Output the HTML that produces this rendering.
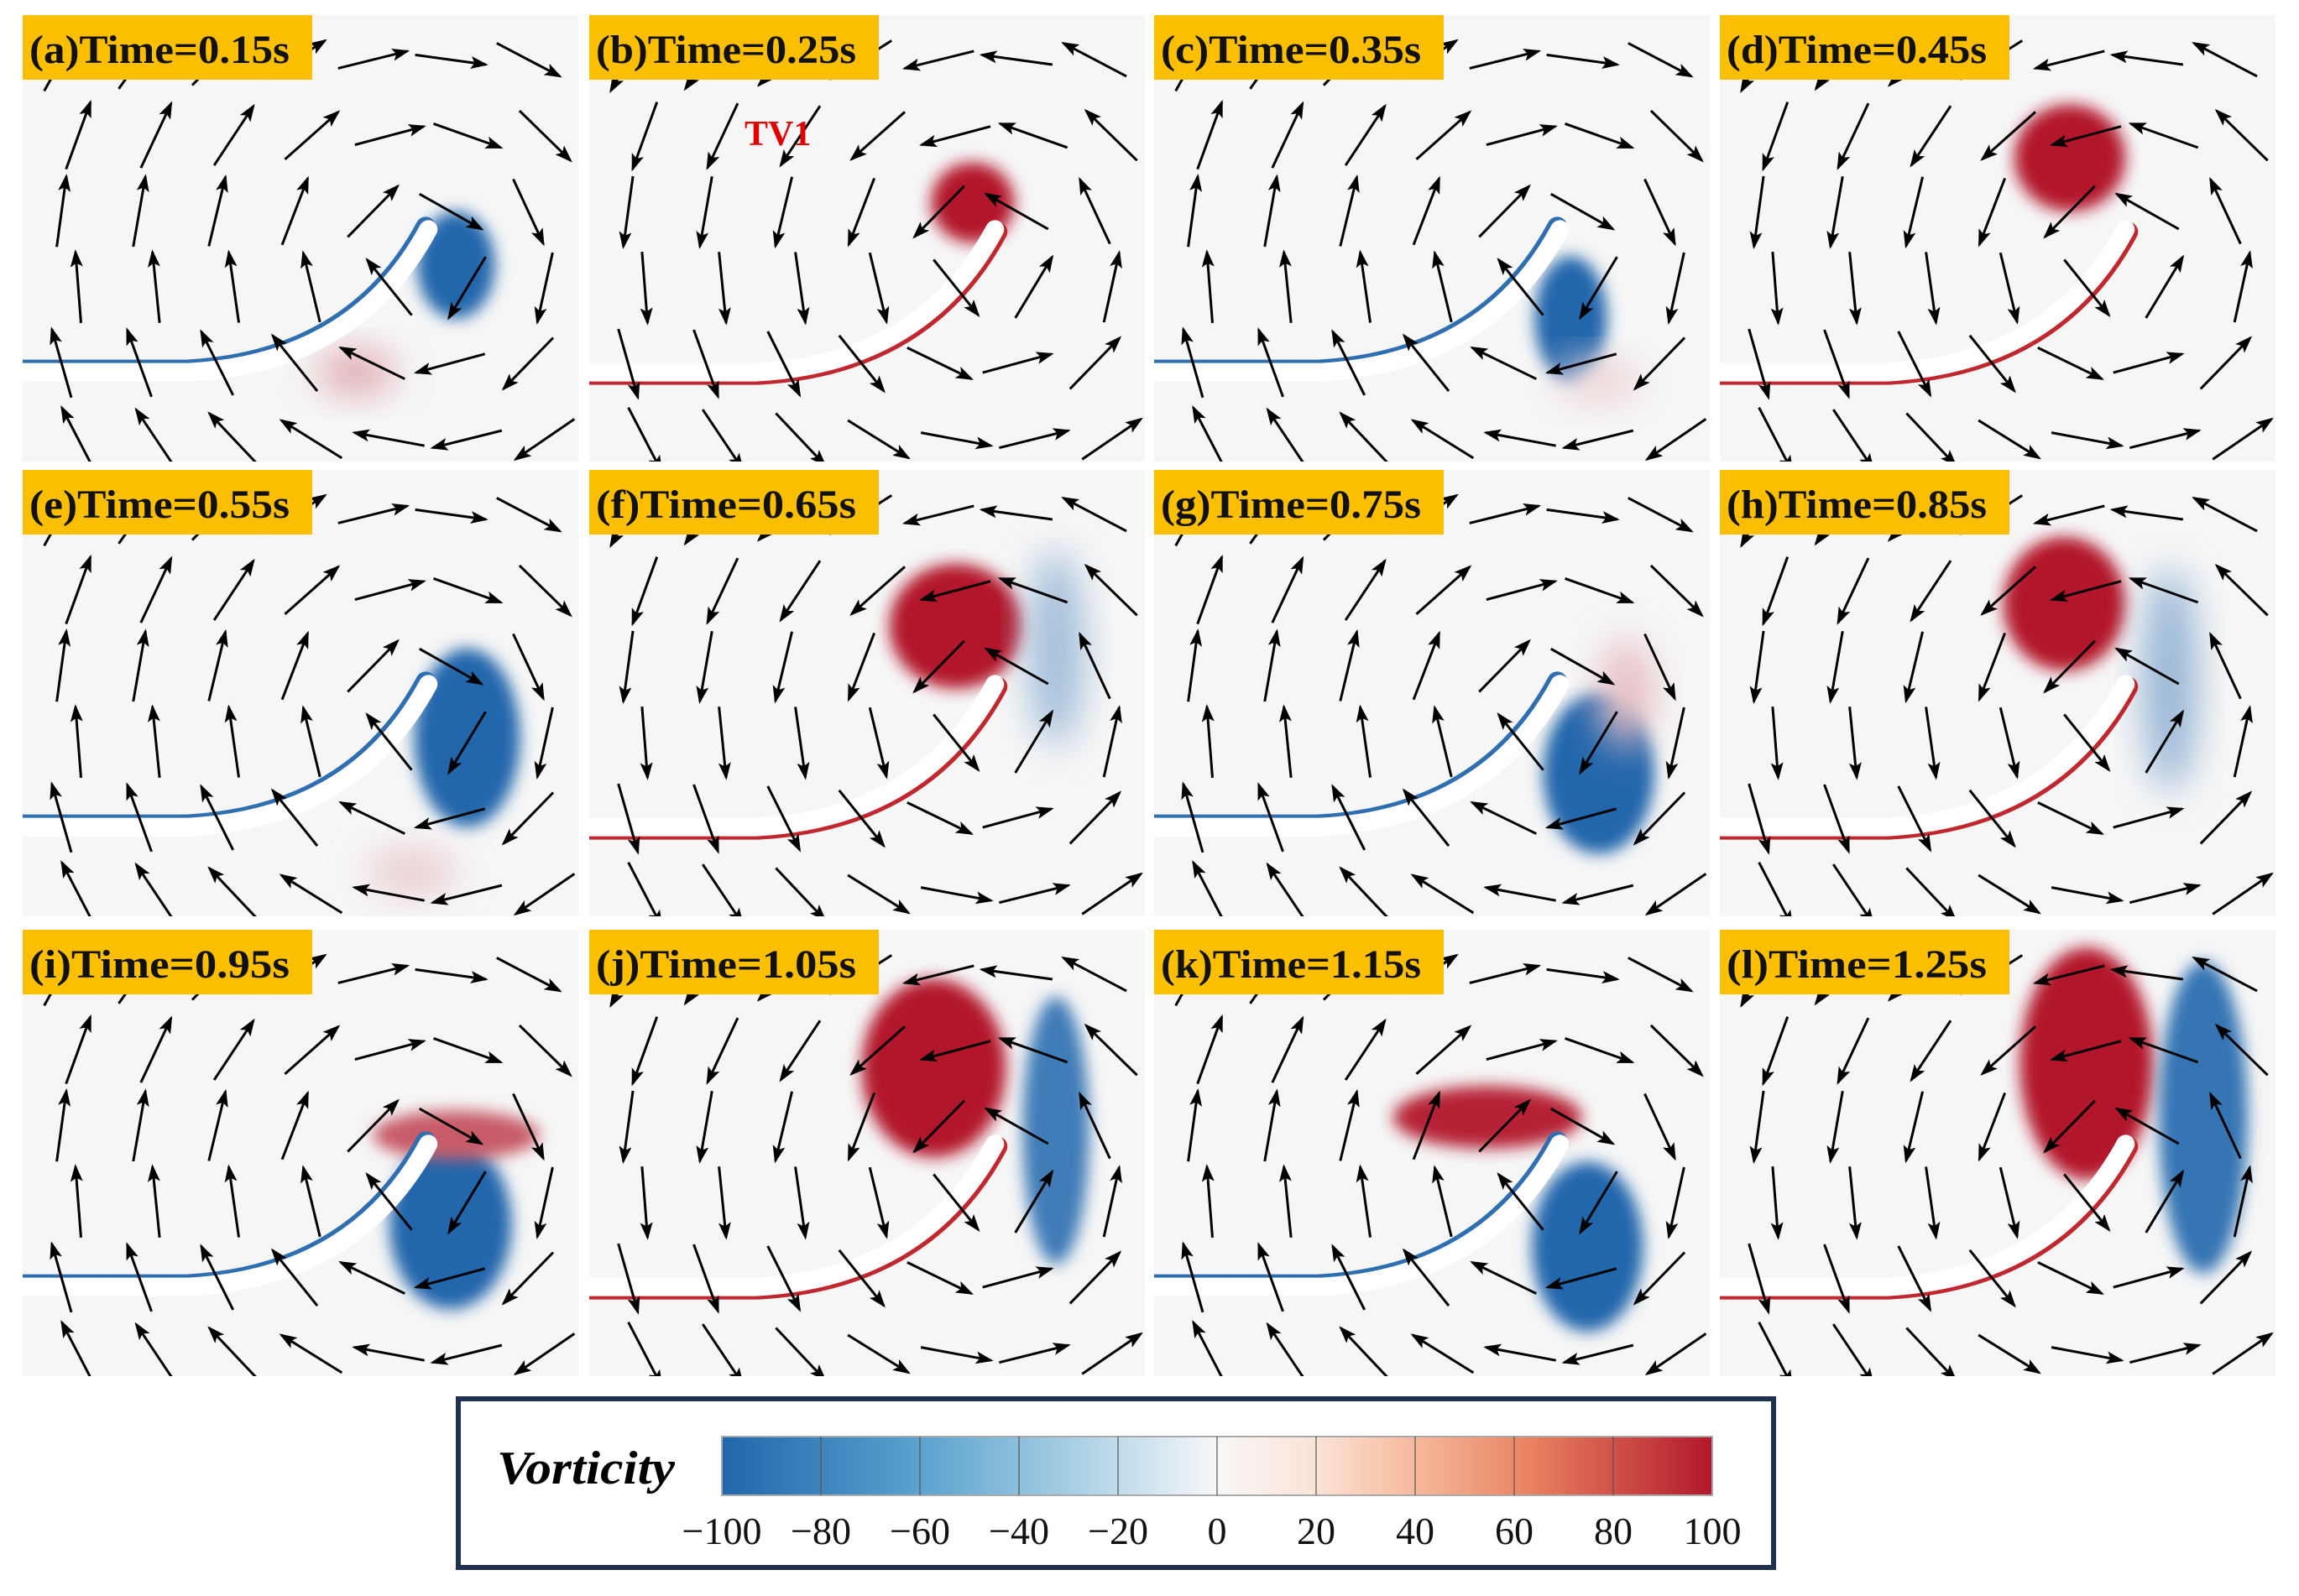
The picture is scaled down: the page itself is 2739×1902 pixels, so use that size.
<!DOCTYPE html>
<html><head><meta charset="utf-8"><style>
html,body{margin:0;padding:0;background:#fff;}
body{width:2739px;height:1902px;position:relative;overflow:hidden;font-family:"Liberation Serif",serif;}
svg{position:absolute;left:0;top:0;}
</style></head><body>
<svg id="fig" width="2739" height="1902" xmlns="http://www.w3.org/2000/svg">
<defs>
<filter id="blur" x="-50%" y="-50%" width="200%" height="200%"><feGaussianBlur stdDeviation="9"/></filter>
<filter id="blur2" x="-50%" y="-50%" width="200%" height="200%"><feGaussianBlur stdDeviation="22"/></filter>
<marker id="ah" markerWidth="7" markerHeight="5" refX="6" refY="2.5" orient="auto" markerUnits="strokeWidth"><path d="M0,0 L7,2.5 L0,5 L1.5,2.5 Z" fill="#000"/></marker>
<linearGradient id="cbg" x1="0" x2="1" y1="0" y2="0">
<stop offset="0" stop-color="#2166ac"/><stop offset="0.2" stop-color="#5aa2cf"/><stop offset="0.35" stop-color="#a6cee3"/><stop offset="0.45" stop-color="#dbe9f2"/><stop offset="0.5" stop-color="#f7f7f7"/><stop offset="0.6" stop-color="#fbe3d6"/><stop offset="0.7" stop-color="#f6b99c"/><stop offset="0.82" stop-color="#e8805f"/><stop offset="1" stop-color="#b2182b"/>
</linearGradient>
</defs>
</svg>
<script>
const labels=["(a)Time=0.15s","(b)Time=0.25s","(c)Time=0.35s","(d)Time=0.45s","(e)Time=0.55s","(f)Time=0.65s","(g)Time=0.75s","(h)Time=0.85s","(i)Time=0.95s","(j)Time=1.05s","(k)Time=1.15s","(l)Time=1.25s"];
const vortexSign=[1,-1,1,-1,1,-1,1,-1,1,-1,1,-1];
// blobs per panel: [cx, cy, rx, ry, vorticity]
const blobs=[
[[0.78,0.56,0.07,0.12,-100],[0.6,0.8,0.07,0.05,35]],
[[0.69,0.42,0.075,0.09,100]],
[[0.75,0.68,0.065,0.14,-100],[0.8,0.82,0.08,0.05,15]],
[[0.63,0.32,0.1,0.12,100]],
[[0.8,0.6,0.095,0.2,-100],[0.7,0.9,0.08,0.05,20]],
[[0.66,0.35,0.12,0.14,100],[0.84,0.4,0.05,0.22,-40]],
[[0.8,0.68,0.1,0.18,-100],[0.85,0.5,0.05,0.12,25]],
[[0.62,0.3,0.11,0.15,100],[0.81,0.47,0.05,0.25,-45]],
[[0.77,0.66,0.11,0.19,-100],[0.78,0.46,0.15,0.055,70]],
[[0.62,0.31,0.13,0.2,100],[0.84,0.45,0.06,0.3,-85]],
[[0.78,0.71,0.1,0.19,-100],[0.6,0.42,0.17,0.07,95]],
[[0.66,0.3,0.12,0.26,100],[0.87,0.42,0.08,0.35,-90]]
];
const cbTicks=[-100,-80,-60,-40,-20,0,20,40,60,80,100];
const colX=[27,702,1375,2049], rowY=[18,560,1108], PW=662, PH=532;
const svg=document.getElementById('fig');
const NS='http://www.w3.org/2000/svg';
function el(t,a,p){const e=document.createElementNS(NS,t);for(const k in a)e.setAttribute(k,a[k]);(p||svg).appendChild(e);return e;}
function col(v){const t=Math.min(1,Math.abs(v)/100);
 if(v<0){return `rgb(${Math.round(247-(247-33)*t)},${Math.round(247-(247-102)*t)},${Math.round(247-(247-172)*t)})`;}
 return `rgb(${Math.round(247-(247-178)*t)},${Math.round(247-(247-24)*t)},${Math.round(247-(247-43)*t)})`;}
labels.forEach((lab,i)=>{
 const x0=colX[i%4], y0=rowY[Math.floor(i/4)];
 const g=el('g',{transform:`translate(${x0},${y0})`});
 
 
 const cp=el('clipPath',{id:'cp'+i},g); el('rect',{x:0,y:0,width:PW,height:PH},cp);
 const inner=el('g',{'clip-path':`url(#cp${i})`},g);
 el('rect',{x:0,y:0,width:PW,height:PH,fill:'#f6f6f6'},inner);
 blobs[i].forEach(b=>{
  const e=el('ellipse',{cx:b[0]*PW,cy:b[1]*PH,rx:b[2]*PW,ry:b[3]*PH,fill:col(b[4]),filter:Math.abs(b[4])<50?'url(#blur2)':'url(#blur)'},inner);
  
  
 });
 const d=`M-10,${0.8*PH} L${0.3*PW},${0.8*PH} Q${0.6*PW},${0.78*PH} ${0.73*PW},${0.48*PH}`;
 const pe=el('path',{d:d,stroke:i%2?'#c0282f':'#2f6fb0',fill:'none','stroke-width':24,'stroke-linecap':'round',transform:i%2?'translate(3,3)':'translate(-3,-3)'},inner);
 
 
 const pl=el('path',{d:d,stroke:'#fff',fill:'none','stroke-width':22,'stroke-linecap':'round'},inner);
 
 
 const s=vortexSign[i], cx=0.72*PW, cy=0.55*PH;
 for(let r=0;r<6;r++)for(let c=0;c<7;c++){
  const px=(0.07+c*0.14)*PW+(r%2?0.03*PW:0), py=(0.1+r*0.17)*PH;
  const dx=px-cx, dy=py-cy; let ang=Math.atan2(dy,dx)+s*Math.PI/2;
  const L=85;
  const ux=Math.cos(ang)*L/2, uy=Math.sin(ang)*L/2;
  const a=el('line',{x1:px-ux,y1:py-uy,x2:px+ux,y2:py+uy,stroke:'#000','stroke-width':3,'marker-end':'url(#ah)'},inner);
  
  
 }
 const lb=el('rect',{x:0,y:0,width:345,height:77,fill:'#fcbf00'},g);
 
 
 const tx=el('text',{x:8,y:57,'font-size':48,'font-weight':'bold','font-family':'Liberation Serif, serif',fill:'#111',textLength:310,lengthAdjust:'spacingAndGlyphs'},g);
 tx.textContent=lab;
 
 
 if(i===1){const tv=el('text',{x:185,y:155,'font-size':42,'font-weight':'bold','font-family':'Liberation Serif, serif',fill:'#e00000'},g);tv.textContent='TV1';
  
  }
});
// colorbar
const box=el('rect',{x:546,y:1667,width:1567,height:201,fill:'#fff',stroke:'#1f3050','stroke-width':6});


const vt=el('text',{x:592,y:1768,'font-size':56,'font-style':'italic','font-weight':'bold','font-family':'Liberation Serif, serif',textLength:212,lengthAdjust:'spacingAndGlyphs'});
vt.textContent='Vorticity';


const bx0=860,bx1=2040;
const cb=el('rect',{x:bx0,y:1712,width:bx1-bx0,height:70,fill:'url(#cbg)',stroke:'#aaa','stroke-width':2});


function sx(v){return bx0+(v+100)/200*(bx1-bx0);}
cbTicks.forEach(v=>{
 if(v>-100&&v<100){const l=el('line',{x1:sx(v),x2:sx(v),y1:1712,y2:1782,stroke:'#555','stroke-width':1.2});
  
  }
 const t=el('text',{x:sx(v),y:1840,'font-size':46,'text-anchor':'middle','font-family':'Liberation Serif, serif',fill:'#111'});
 t.textContent=v<0?'\u2212'+Math.abs(v):String(v);
 
 
});
</script>
</body></html>
